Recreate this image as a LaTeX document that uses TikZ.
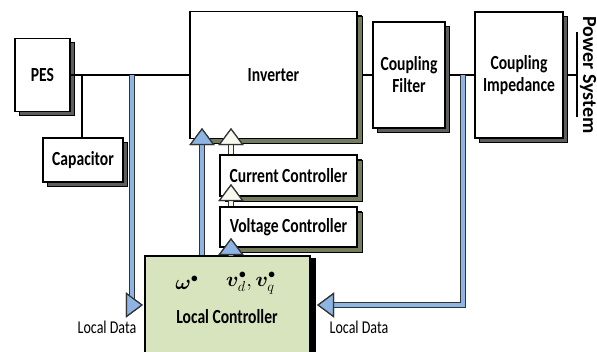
\documentclass[tikz,border=0pt]{standalone}
\usepackage{amsmath,bm}
\usepackage{fontspec}
\setmainfont{Carlito}[FakeStretch=0.78]
\newfontfamily\wideface{Carlito}
\usetikzlibrary{shadows,arrows.meta}
\definecolor{busblue}{HTML}{8DB4E2}
\definecolor{ctrlgreen}{HTML}{D7E4BD}
\definecolor{olivesh}{HTML}{737D5E}
\definecolor{greysh}{HTML}{5E5E5E}
\definecolor{creamwhite}{HTML}{F8FAF0}

\begin{document}
\begin{tikzpicture}[x=1pt,y=-1pt,font=\fontsize{20}{20}\selectfont\bfseries,
  blk/.style={draw=black,line width=1.3pt,fill=white,align=center,inner sep=0pt,
    copy shadow={shadow xshift=4pt,shadow yshift=-4pt,fill=greysh,draw=black,line width=.7pt}},
  oliveblk/.style={blk,copy shadow={shadow xshift=5pt,shadow yshift=-5pt,fill=olivesh,draw=black,line width=.7pt}},
  ctrlblk/.style={draw=black,line width=2.2pt,fill=ctrlgreen,inner sep=0pt,
    copy shadow={shadow xshift=5pt,shadow yshift=-3pt,fill=black,draw=black}},
  bus/.style={draw=black,line width=1.3pt},
  bluearrow/.style={draw=#1,line width=4pt,
    -{Triangle[width=25pt,length=17pt,color=black!80,fill=#1,line width=1.2pt]},
    preaction={draw=black!80,line width=6.4pt,
    -{Triangle[width=25pt,length=17pt,color=black!80,fill=#1,line width=1.2pt]}}},
  bluearrow/.default=busblue,
  whitearrow/.style={bluearrow=creamwhite},
  datalabel/.style={font=\fontsize{18}{18}\selectfont}]
\useasboundingbox (0,0) rectangle (597,351);
\node[blk,minimum width=55pt,minimum height=73pt] (pes) at (42.5,75) {PES};
\node[blk,minimum width=80pt,minimum height=44pt] (cap) at (83,160) {Capacitor};
\node[oliveblk,minimum width=167pt,minimum height=127pt] (inv) at (273.5,75) {Inverter};
\node[blk,minimum width=72pt,minimum height=106pt] (filt) at (409,75) {Coupling\\[2pt]Filter};
\node[blk,minimum width=88pt,minimum height=126pt] (imp) at (519,75) {Coupling\\[2pt]Impedance};
\node[oliveblk,minimum width=137pt,minimum height=41pt] (cur) at (288.5,175.5) {Current Controller};
\node[oliveblk,minimum width=137pt,minimum height=40pt] (vol) at (288.5,227) {Voltage Controller};
\node[ctrlblk,minimum width=165pt,minimum height=98pt] (loc) at (227.5,305) {};
\node (locname) at (227,317) {Local Controller};
\node (omref) at (187,283) {$\bm{\omega}^{\bullet}$};
\node (vdqref) at (251,283) {$\bm{v}_d^{\bullet},\bm{v}_q^{\bullet}$};
\coordinate (capj) at (82,75);
\coordinate (ldl) at (132,75);
\coordinate (ldr) at (463,75);
\coordinate (psj) at (577,75);
\coordinate (pstop) at (577,32);
\coordinate (psbot) at (577,117);
\draw[bus] (pes.east) -- (inv.west);
\draw[bus] (capj) -- (capj |- cap.north);
\draw[bus] ([xshift=5pt]inv.east) -- (filt.west);
\draw[bus] ([xshift=4pt]filt.east) -- (imp.west);
\draw[bus] ([xshift=4pt]imp.east) -- (psj);
\draw[line width=1.1pt] (pstop) -- (psbot);
\node[rotate=-90,font=\wideface\fontsize{20}{20}\selectfont\bfseries] (psname) at (588,75) {Power System};
\coordinate (oin) at (202,128);
\coordinate (pin) at (231,128);
\coordinate (cin) at (231,184);
\coordinate (vin) at (231,238);
\draw[bluearrow] (ldl) |- ([xshift=-1pt]loc.west);
\draw[bluearrow] (ldr) |- ([xshift=6pt]loc.east);
\draw[bluearrow] (loc.north -| oin) -- (oin);
\draw[whitearrow] (cur.north -| pin) -- (pin);
\draw[whitearrow] (vol.north -| cin) -- (cin);
\draw[bluearrow] (loc.north -| vin) -- (vin);
\node[datalabel] (ldlname) at (107,327) {Local Data};
\node[datalabel] (ldrname) at (359,327) {Local Data};
\end{tikzpicture}
\end{document}
